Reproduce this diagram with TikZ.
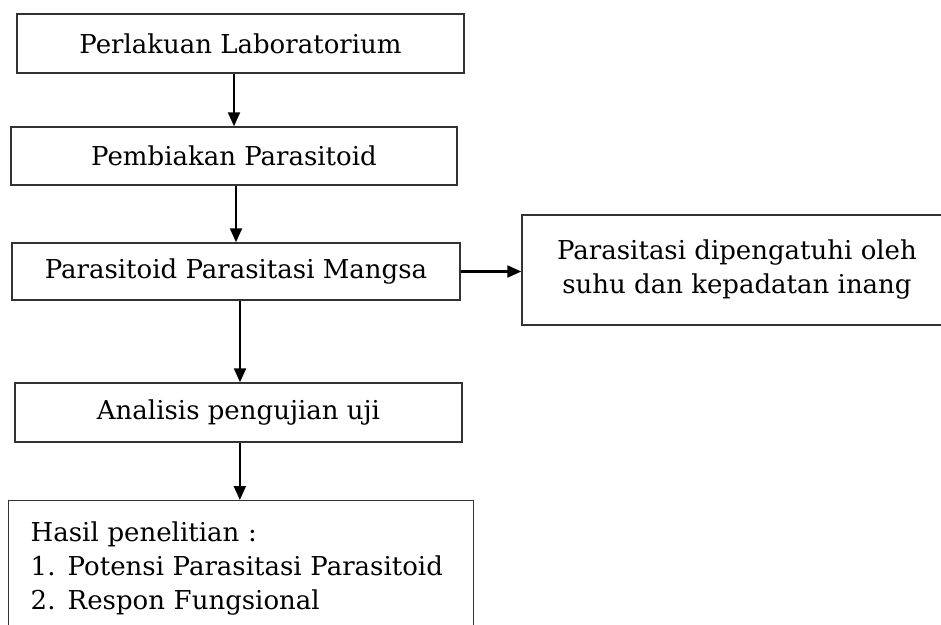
\documentclass[tikz,border=0pt]{standalone}
\usepackage{fontspec}
\setmainfont{DejaVu Serif}
\usetikzlibrary{arrows.meta, positioning, calc}

\begin{document}
\begin{tikzpicture}[x=0.75pt, y=-0.75pt,
    stepbox/.style={draw=black!80, line width=1.1pt, inner sep=0pt, align=center,
      font=\fontsize{19.5}{25.5}\selectfont},
    flow/.style={line width=1.6pt, -{Triangle[length=10.5pt, width=9pt]}}]
  \useasboundingbox (0,0) rectangle (941,624);
  \clip (0,0) rectangle (941,624);

  % Perlakuan
  \node[stepbox, minimum width=447*0.75pt, minimum height=59*0.75pt] (lab) at (240.5, 43.5) {Perlakuan Laboratorium};

  % Pembiakan
  \node[stepbox, minimum width=446*0.75pt, minimum height=58*0.75pt] (bio) at (234, 156) {Pembiakan Parasitoid};

  % Parasitasi
  \node[stepbox, minimum width=448*0.75pt, minimum height=57*0.75pt] (mangsa) at (236, 271.5) {Parasitoid Parasitasi Mangsa};

  % Faktor
  \node[stepbox, minimum width=430*0.75pt, minimum height=110*0.75pt] (faktor) at (737, 270) {Parasitasi dipengatuhi oleh\\suhu dan kepadatan inang};

  % Analisis
  \node[stepbox, minimum width=447*0.75pt, minimum height=59*0.75pt] (uji) at (238.5, 412.5) {Analisis pengujian uji};

  % Hasil
  \node[stepbox, anchor=north west, align=left, text width=421*0.75pt, inner xsep=16.5pt, inner ysep=16pt] (hasil) at (8, 500) {
    Hasil penelitian :\\
    \makebox[27.75pt][l]{1.}Potensi Parasitasi Parasitoid\\
    \makebox[27.75pt][l]{2.}Respon Fungsional
  };

  \draw[flow] (lab.south -| bio.north) -- (bio.north);
  \draw[flow] (bio.south -| mangsa.north) -- (mangsa.north);
  \draw[flow] ([xshift=3pt]mangsa.south) -- ([xshift=3pt]mangsa.south |- uji.north);
  \draw[flow] ([xshift=1pt]uji.south) -- ([xshift=1pt]uji.south |- hasil.north);
  \draw[flow] (mangsa.east) -- (mangsa.east -| faktor.west);
\end{tikzpicture}
\end{document}
